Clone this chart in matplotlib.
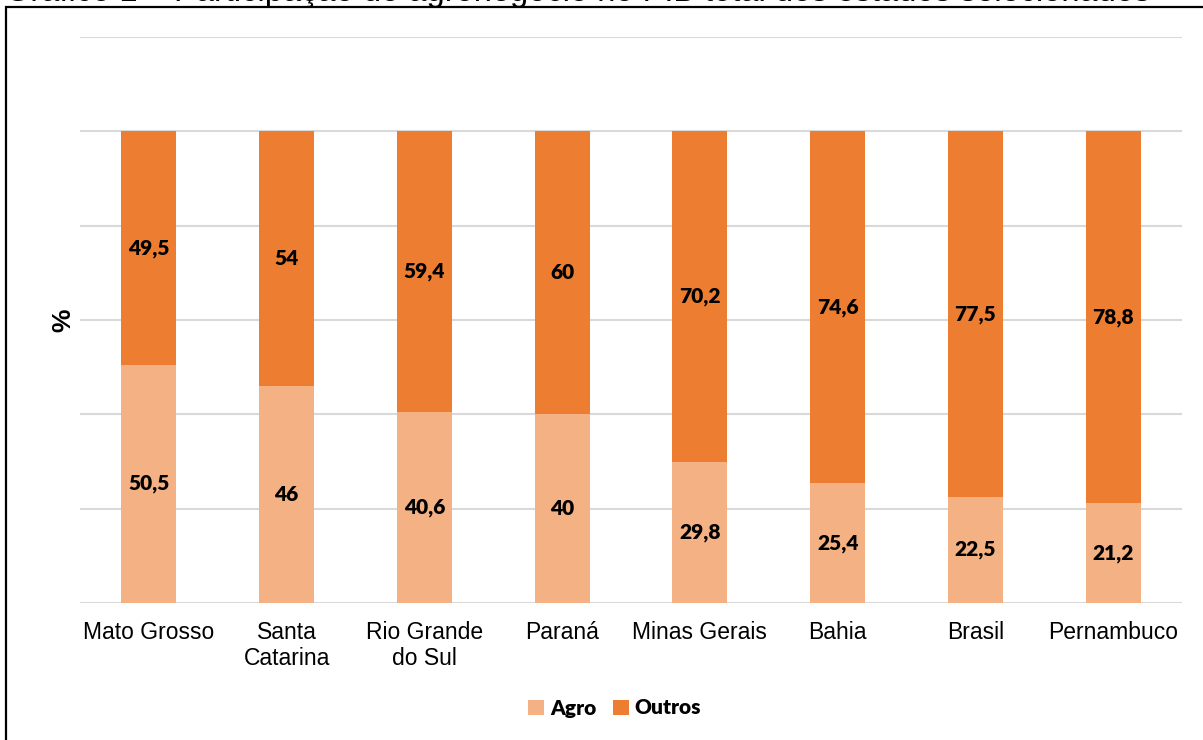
import matplotlib.pyplot as plt
import numpy as np
from matplotlib.patches import Rectangle

estados = ['Mato Grosso', 'Santa\nCatarina', 'Rio Grande\ndo Sul', 'Paraná',
           'Minas Gerais', 'Bahia', 'Brasil', 'Pernambuco']
agro = [50.5, 46, 40.6, 40, 29.8, 25.4, 22.5, 21.2]
outros = [49.5, 54, 59.4, 60, 70.2, 74.6, 77.5, 78.8]
agro_labels = ['50,5', '46', '40,6', '40', '29,8', '25,4', '22,5', '21,2']
outros_labels = ['49,5', '54', '59,4', '60', '70,2', '74,6', '77,5', '78,8']

COR_AGRO = '#F4B183'
COR_OUTROS = '#ED7D31'

fig = plt.figure(figsize=(12.03, 7.40), dpi=100)
ax = fig.add_axes([80 / 1203, 1 - 603 / 740, 1102 / 1203, (603 - 37) / 740])

x = np.arange(len(estados))
ax.bar(x, agro, width=0.4, color=COR_AGRO, label='Agro', zorder=2)
ax.bar(x, outros, width=0.4, bottom=agro, color=COR_OUTROS, label='Outros', zorder=2)

lbl_font = dict(family='Lato', weight='heavy', size=15, color='black')
for i in range(len(estados)):
    ax.text(x[i], agro[i] / 2, agro_labels[i], ha='center', va='center', **lbl_font)
    ax.text(x[i], agro[i] + outros[i] / 2, outros_labels[i], ha='center', va='center', **lbl_font)

ax.set_xlim(-0.5, len(estados) - 0.5)
ax.set_ylim(0, 120)
ax.set_yticks(np.arange(0, 121, 20))
ax.set_yticklabels([])
ax.tick_params(axis='y', length=0)
ax.tick_params(axis='x', length=0, pad=13)
ax.grid(axis='y', color='#D9D9D9', linewidth=1.5, zorder=0)
for s in ax.spines.values():
    s.set_visible(False)
ax.set_xticks(x)
ax.set_xticklabels(estados, family='Liberation Sans', size=16.5, linespacing=1.15)

ax.set_ylabel('%', family='Liberation Sans', weight='bold', size=19, labelpad=0)

ax.legend(loc='center', bbox_to_anchor=(0.511, 1 - 708 / 740), bbox_transform=fig.transFigure,
          ncol=2, frameon=False, handlelength=0.75, handleheight=0.75, handletextpad=0.3,
          columnspacing=0.8, prop=dict(family='Lato', weight='heavy', size=15))

# moldura do gráfico
fig.patches.append(Rectangle((6 / 1203, -0.01), 1.01, 1 - 7 / 740 + 0.01, transform=fig.transFigure,
                             fill=False, edgecolor='black', linewidth=1.6))

# título cortado no topo
fig.text(5 / 1203, 1 - 1.5 / 740, 'Gráfico 1 – Participação do agronegócio no PIB total dos estados selecionados',
         family='Liberation Sans', size=23.5, va='baseline', ha='left')

fig.savefig('out.png', dpi=100)
